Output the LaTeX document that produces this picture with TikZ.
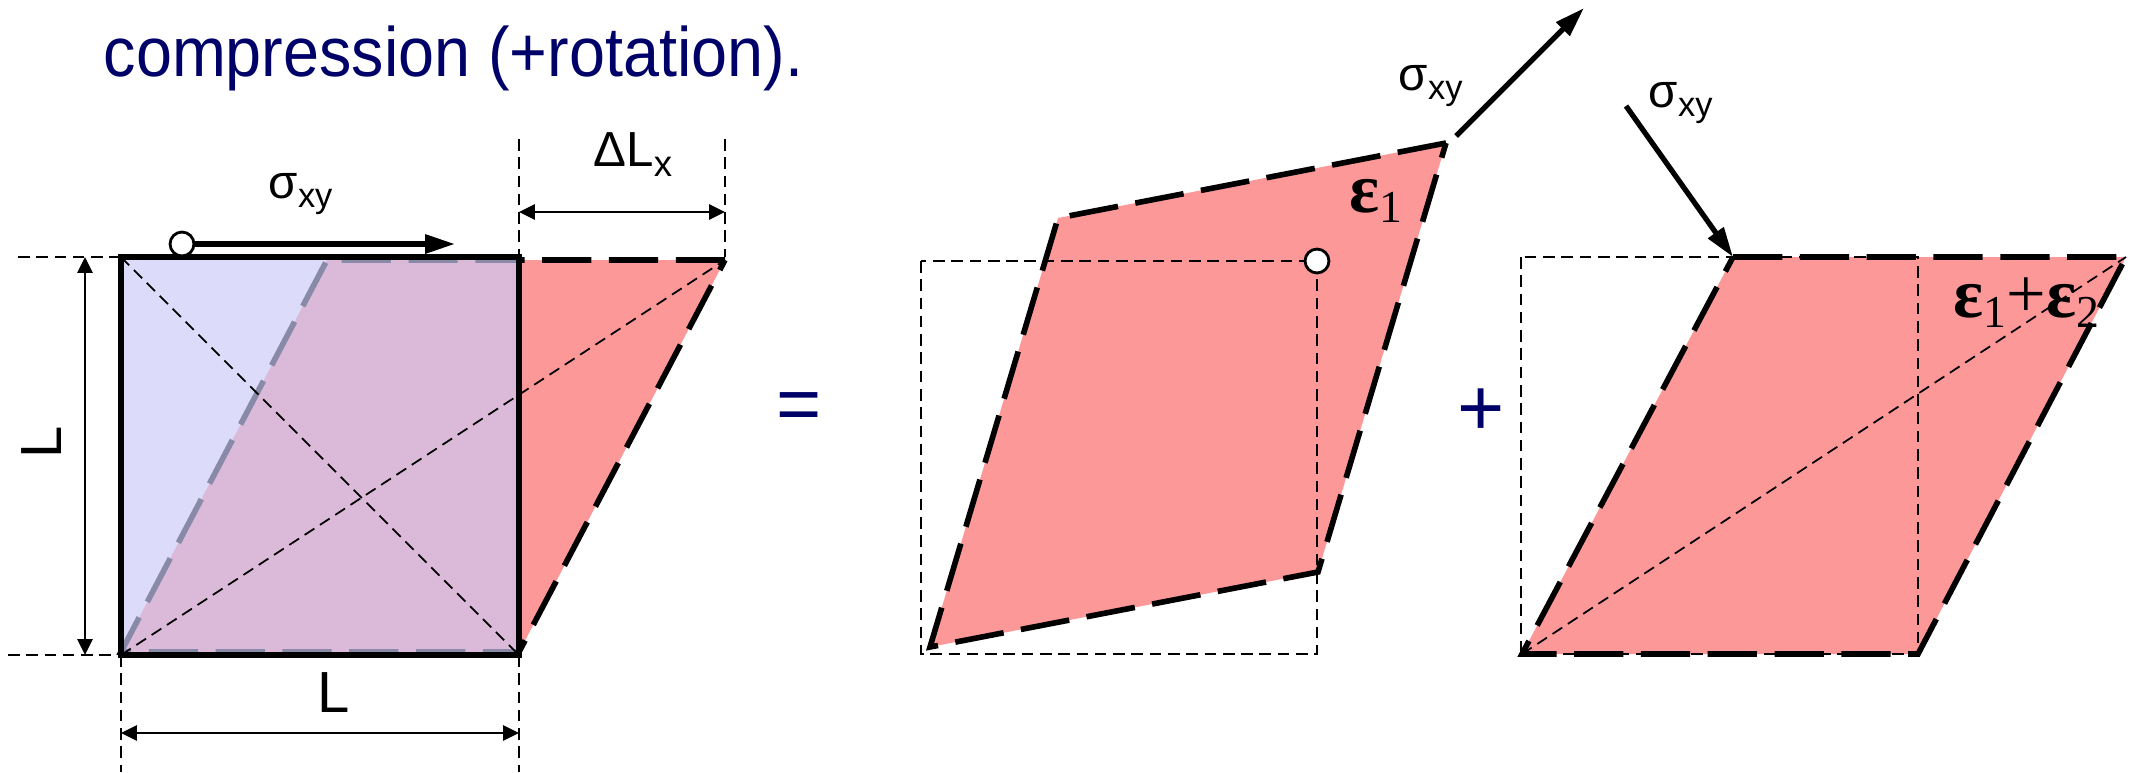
\documentclass[tikz,border=0pt]{standalone}
\usepackage{fontspec}
\setmainfont{Liberation Sans}
\newfontfamily\serifgr{Liberation Serif}
\usetikzlibrary{arrows.meta}
\definecolor{navy}{RGB}{0,0,105}
\definecolor{redfill}{RGB}{253,152,152}
\definecolor{bluefill}{RGB}{203,203,248}
\newcommand{\myfs}[1]{\fontsize{#1}{#1}\selectfont}
\newcommand{\mysig}{{\myfs{13.5}σ}\raisebox{-2.8pt}{\myfs{9.8}xy}}
\newcommand{\myeps}[1]{{\serifgr\bfseries\myfs{20}ε}\raisebox{-3.1pt}{\serifgr\myfs{13}#1}}
\tikzset{
  thickdash/.style={line width=1.6pt, dash pattern=on 14pt off 5pt},
  thindash/.style={line width=0.5pt, dash pattern=on 3.3pt off 1.9pt},
  dimarrow/.style={line width=0.55pt, {Triangle[length=4.5pt,width=4.3pt]}-{Triangle[length=4.5pt,width=4.3pt]}},
  forcearrow/.style={line width=1.5pt, -{Triangle[length=8.5pt,width=5.2pt]}},
  knob/.style={circle, draw, fill=white, line width=0.8pt, minimum size=6.8pt, inner sep=0pt},
  lbl/.style={anchor=base west, inner sep=0pt},
}
\begin{document}
\begin{tikzpicture}[x=0.01cm, y=-0.01cm]
\useasboundingbox (0,0) rectangle (2136,772);

% title
\node[lbl, text=navy] (title) at (103,76) {\scalebox{1}[1.08]{\myfs{18.4}compression (+rotation).}};

% ---------- left figure ----------
\coordinate (sqBL) at (121,655);
\coordinate (sqBR) at (519,655);
\coordinate (sqTR) at (519,257);
\coordinate (sqTL) at (121,257);
\coordinate (pgBL) at (121,652);
\coordinate (pgBR) at (519,652);
\coordinate (pgTR) at (725,260);
\coordinate (pgTL) at (327,260);

\fill[redfill] (pgBL) -- (pgBR) -- (pgTR) -- (pgTL) -- cycle;
\draw[thickdash] (pgTR) -- (pgTL) -- (pgBL) -- (pgBR) -- cycle;
\fill[bluefill, fill opacity=0.68] (sqBL) rectangle (sqTR);
\draw[line width=1.6pt] (sqBL) rectangle (sqTR);
\draw[thindash] (sqTL) -- (sqBR);
\draw[thindash] (sqBL) -- (pgTR);

% extension lines
\coordinate (e1) at (18,257);
\coordinate (e2) at (8,655);
\coordinate (e3) at (121,772);
\coordinate (e4) at (519,772);
\coordinate (e5) at (519,139);
\coordinate (e6) at (725,139);
\coordinate (e6b) at (725,257);
\draw[thindash] (e1) -- (sqTL);
\draw[thindash] (e2) -- (sqBL);
\draw[thindash] (sqBL) -- (e3);
\draw[thindash] (sqBR) -- (e4);
\draw[thindash] (e5) -- (sqTR);
\draw[thindash] (e6) -- (e6b);

% dimension arrows
\coordinate (dv1) at (85,257);
\coordinate (dv2) at (85,655);
\coordinate (dh1) at (121,733);
\coordinate (dh2) at (519,733);
\coordinate (dd1) at (519,212);
\coordinate (dd2) at (725,212);
\draw[dimarrow] (dv1) -- (dv2);
\draw[dimarrow] (dh1) -- (dh2);
\draw[dimarrow] (dd1) -- (dd2);

\node[rotate=90, inner sep=0pt, font=\myfs{16.5}] (Lv) at (42,442) {L};
\node[inner sep=0pt, font=\myfs{16.5}] (Lh) at (334,693) {L};
\node[lbl] (dLx) at (593,166) {{\myfs{14}ΔL}\raisebox{-3.1pt}{\myfs{10.4}x}};

% shear force
\node[knob] (c1) at (182,244) {};
\coordinate (t1) at (455,244);
\draw[forcearrow] (c1.east) -- (t1);
\node[lbl] (sig1) at (268,198) {\mysig};

% equals
\node[text=navy, inner sep=0pt, font=\myfs{22}] (eq) at (799,412) {=};

% ---------- middle figure ----------
\coordinate (mBL) at (930,647);
\coordinate (mBR) at (1318,572);
\coordinate (mTR) at (1446,143);
\coordinate (mTL) at (1058,218);
\coordinate (mr1) at (921,261);
\coordinate (mr2) at (1317,654);
\fill[redfill] (mBL) -- (mBR) -- (mTR) -- (mTL) -- cycle;
\draw[thindash] (mr1) rectangle (mr2);
\draw[thickdash] (mTR) -- (mTL) -- (mBL) -- (mBR) -- cycle;
\node[knob] (c2) at (1317,261) {};
\coordinate (ma1) at (1456,136);
\coordinate (ma2) at (1584,8);
\draw[forcearrow] (ma1) -- (ma2);
\node[lbl] (sig2) at (1398,90) {\mysig};
\node[lbl] (eps1) at (1349,212) {\myeps{1}};

% plus
\node[text=navy, inner sep=0pt, font=\myfs{23}] (plus) at (1481,412) {+};

% ---------- right figure ----------
\coordinate (rBL) at (1522,654);
\coordinate (rBR) at (1918,654);
\coordinate (rTR) at (2126,257);
\coordinate (rTL) at (1733,257);
\coordinate (rr1) at (1521,257);
\coordinate (rr2) at (1918,654);
\fill[redfill] (rBL) -- (rBR) -- (rTR) -- (rTL) -- cycle;
\draw[thindash] (rr1) rectangle (rr2);
\draw[thindash] (rBL) -- (rTR);
\draw[thickdash] (rTL) -- (rTR) -- (rBR) -- (rBL) -- cycle;
\coordinate (ra1) at (1626,106);
\draw[forcearrow] (ra1) -- (rTL);
\node[lbl] (sig3) at (1648,107) {\mysig};
\node[lbl] (eps12) at (1953,317) {\myeps{1}{\serifgr\myfs{20}+}\myeps{2}};
\end{tikzpicture}
\end{document}
